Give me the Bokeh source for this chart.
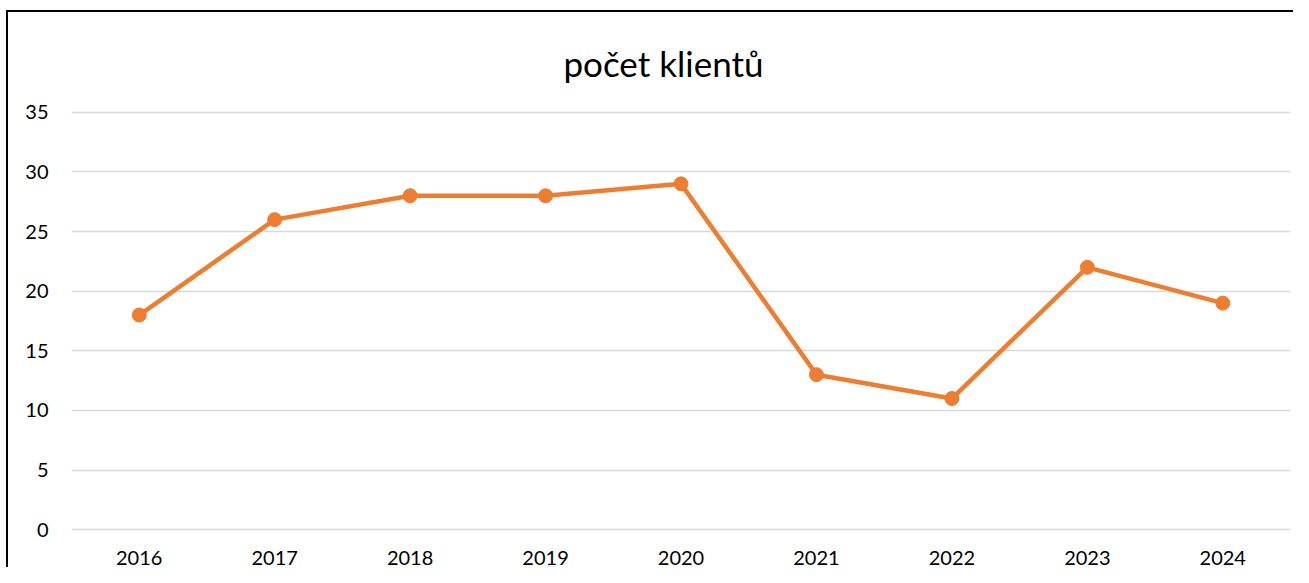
from bokeh.plotting import figure
from bokeh.models import FactorRange, Range1d, FixedTicker, Title
from bokeh.embed import file_html
from bokeh.resources import INLINE

years = ["2016", "2017", "2018", "2019", "2020", "2021", "2022", "2023", "2024"]
clients = [18, 26, 28, 28, 29, 13, 11, 22, 19]
y_ticks = [0, 5, 10, 15, 20, 25, 30, 35]
title_text = "počet klientů"

FONT = "Lato"
ORANGE = "#ED7D31"

p = figure(
    x_range=FactorRange(*years, range_padding=0),
    y_range=Range1d(-0.15, 35.15),
    width=1287, height=557,
    output_backend="svg", toolbar_location=None,
    min_border_left=63, min_border_right=5,
    min_border_top=97, min_border_bottom=38,
)
p.margin = (10, 0, 0, 6)
p.styles = {"border-left": "2px solid black", "border-top": "2px solid black"}

p.title = Title(text=title_text, align="left", offset=492, text_font=FONT,
                text_font_size="35px", text_font_style="normal",
                text_color="#000000", standoff=54)

p.outline_line_color = None
p.background_fill_color = "white"
p.border_fill_color = "white"

p.xgrid.grid_line_color = None
p.ygrid.grid_line_color = "#D9D9D9"
p.ygrid.grid_line_width = 1.5
p.yaxis.ticker = FixedTicker(ticks=y_ticks)

for ax in (p.xaxis, p.yaxis):
    ax.axis_line_color = None
    ax.major_tick_line_color = None
    ax.minor_tick_line_color = None
    ax.major_label_text_font = FONT
    ax.major_label_text_font_size = "20px"
    ax.major_label_text_color = "#000000"

p.xaxis.major_label_standoff = 13
p.yaxis.major_label_standoff = 17

p.line(years, clients, line_color=ORANGE, line_width=4.5)
p.scatter(years, clients, size=14, fill_color=ORANGE, line_color=ORANGE)

open("out.html", "w").write(file_html(p, INLINE))
